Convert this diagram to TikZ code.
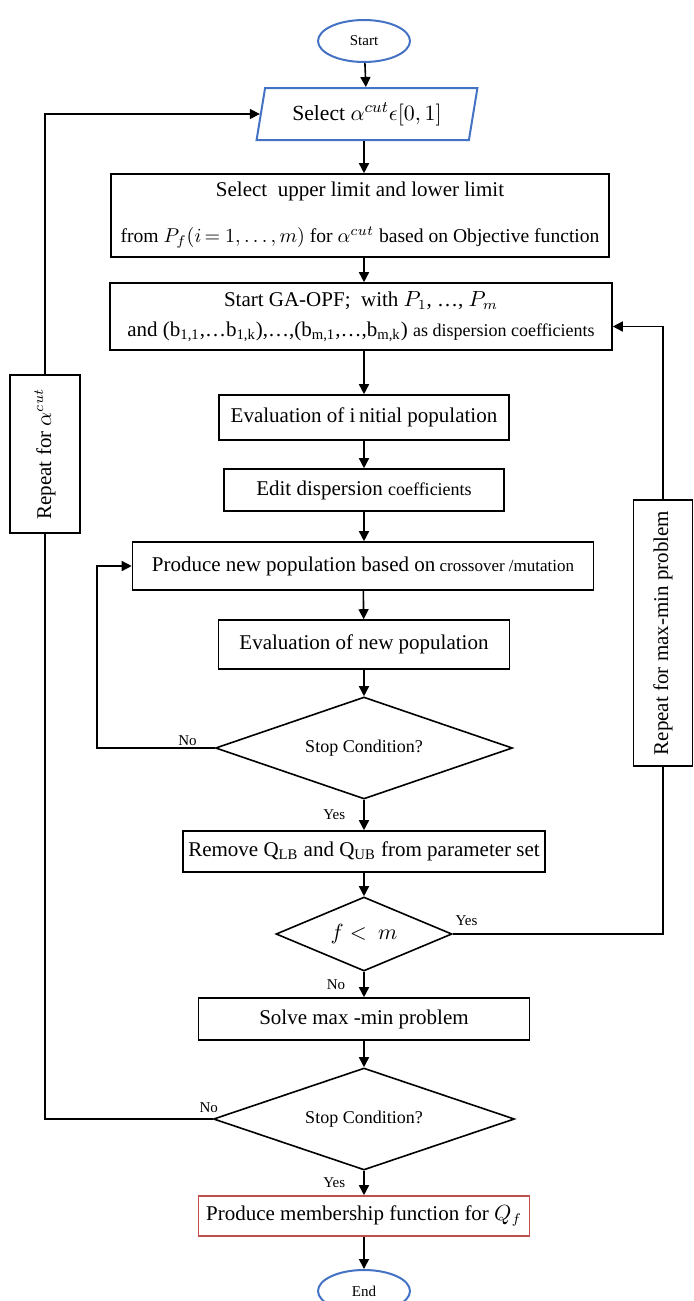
\documentclass[tikz,border=0pt]{standalone}
\usepackage{fontspec}
\setmainfont{Liberation Serif}
\usetikzlibrary{shapes.geometric,arrows.meta}

\definecolor{termblue}{RGB}{68,114,196}
\definecolor{endred}{RGB}{192,80,77}

\begin{document}
\begin{tikzpicture}[x=0.5pt,y=-0.5pt,
    every node/.style={font=\fontsize{10.5}{12}\selectfont},
    box/.style={draw,line width=0.8pt,inner sep=0pt,align=center},
    dec/.style={draw,diamond,line width=0.8pt,inner sep=0pt,font=\fontsize{9}{10}\selectfont},
    term/.style={draw=termblue,ellipse,line width=1pt,minimum width=46pt,minimum height=21pt,font=\fontsize{7.5}{9}\selectfont},
    arr/.style={-{Triangle[length=5pt,width=5pt]},line width=0.8pt},
    lin/.style={line width=0.8pt},
    lbl/.style={font=\fontsize{7.5}{9}\selectfont,inner sep=1pt}]
      \useasboundingbox (0,0) rectangle (693,1301);
      \node[term] (start) at (364,41) {Start};
      \node[draw=termblue,trapezium,trapezium left angle=75,trapezium right angle=105,trapezium stretches=true,
        minimum width=111pt,minimum height=26pt,line width=1pt,inner sep=0pt,font=\fontsize{10.8}{13}\selectfont] (sel) at (367,114) {Select\ $\alpha^{cut}\epsilon[0,1]$};
      \node[box,minimum width=249pt,minimum height=41.5pt,font=\fontsize{10.5}{23}\selectfont] (lim) at (360,215.5)
        {Select\ \ upper limit and lower limit\\ {\fontsize{9.8}{10}\selectfont from $P_f(i\,{=}\ 1,\ldots,m)$\ for $\alpha^{cut}$ based on Objective function}};
      \node[box,minimum width=251pt,minimum height=33.5pt,font=\fontsize{10.5}{15}\selectfont] (ga) at (361,316.5)
        {Start GA-OPF;\ \ with $P_1$, \ldots,\ $P_m$\\ and (b\textsubscript{1,1},\ldots b\textsubscript{1,k}),\ldots,(b\textsubscript{m,1},\ldots,b\textsubscript{m,k}) {\fontsize{9}{15}\selectfont as dispersion coefficients}};
      \node[box,minimum width=145pt,minimum height=22.5pt] (evi) at (364,417.5) {Evaluation of i\,nitial population};
      \node[box,minimum width=140pt,minimum height=21pt] (edit) at (364,490) {Edit dispersion {\fontsize{9}{10}\selectfont coefficients}};
      \node[box,minimum width=230.5pt,minimum height=24pt] (prod) at (363,566) {Produce new population based on{\fontsize{8.5}{10}\selectfont\ crossover /mutation}};
      \node[box,minimum width=145.5pt,minimum height=24.5pt] (evn) at (364,644.5) {Evaluation of new population};
      \node[dec,aspect=2.91,minimum width=148.5pt,minimum height=51pt] (stop1) at (364,748) {Stop Condition?};
      \node[box,minimum width=181pt,minimum height=20.5pt] (rem) at (364,851.5) {Remove Q\textsubscript{LB} and Q\textsubscript{UB} from parameter set};
      \node[dec,aspect=2.38,minimum width=88pt,minimum height=37pt,font=\fontsize{10.5}{12}\selectfont] (fm) at (364,934) {$f <\ m$};
      \node[box,minimum width=165.5pt,minimum height=21pt] (solve) at (364,1019) {Solve max -min problem};
      \node[dec,aspect=2.95,minimum width=150.5pt,minimum height=51pt] (stop2) at (364,1119) {Stop Condition?};
      \node[box,draw=endred,minimum width=165.5pt,minimum height=20pt] (memb) at (364,1216) {Produce membership function for $Q_f$};
      \node[term] (end) at (364,1291) {End};
      % side boxes for the two loops
      \node[box,fill=white,rotate=90,minimum width=79pt,minimum height=35pt] (rep1) at (45,454) {Repeat for $\alpha^{cut}$};
      \node[box,fill=white,rotate=90,minimum width=133pt,minimum height=29.5pt] (rep2) at (663,633) {Repeat for max-min problem};
      % main column
      \foreach \a/\b in {start/sel,evi/edit,prod/evn,evn/stop1,rem/fm,solve/stop2,memb/end} {
        \draw[arr] (\a) -- (\b);
      }
      \draw[arr] (sel.south -| start) -- (lim.north -| start);
      \draw[arr] (lim.south -| start) -- (ga.north -| start);
      \draw[arr] (ga.south -| start) -- (evi);
      \draw[arr] (edit) -- (edit.south |- prod.north);
      \draw[arr] (stop1) -- node[lbl,left=8pt]{Yes} (rem);
      \draw[arr] (fm) -- node[lbl,left=8pt]{No} (solve);
      \draw[arr] (stop2) -- node[lbl,left=8pt]{Yes} (memb);
      % loops
      \draw[arr] (stop1.west) -- node[lbl,above,pos=0.23]{No} ++(-118,0) |- (prod.west);
      \draw[lin] (fm.east) -- node[lbl,anchor=south west,pos=0,yshift=3pt]{Yes} (fm.east -| rep2) -- (rep2);
      \draw[arr] (rep2) |- ([yshift=-5pt]ga.east);
      \draw[lin] (stop2.west) -- node[lbl,anchor=south east,pos=0,xshift=4pt,yshift=2pt]{No} (stop2.west -| rep1) -- (rep1);
      \draw[arr] (rep1) |- (sel);
    \end{tikzpicture}
\end{document}
